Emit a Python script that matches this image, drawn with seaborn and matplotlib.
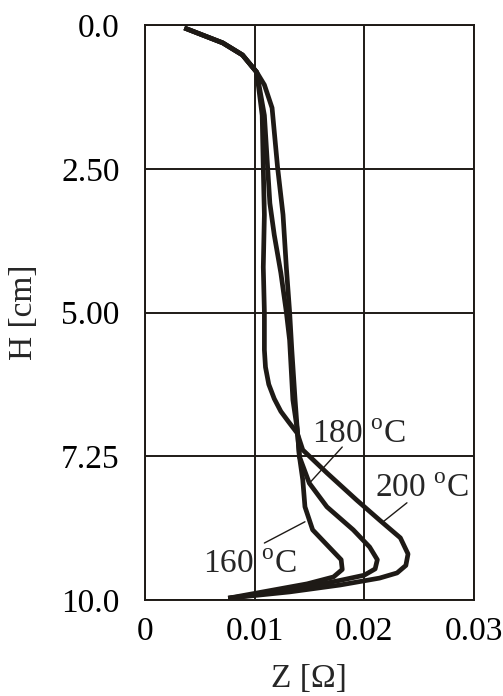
import matplotlib
matplotlib.use("Agg")
import matplotlib.pyplot as plt
import seaborn as sns
import pandas as pd

# shared top part of all three curves (Z [ohm], H [cm])
top_z = [0.0036, 0.0071, 0.0089, 0.0102]
top_h = [0.05, 0.31, 0.52, 0.82]

z_200 = [0.0107, 0.0108, 0.0109, 0.0108, 0.0109, 0.0109, 0.0110, 0.0113, 0.0118,
         0.0124, 0.0131, 0.0139, 0.0144, 0.0166, 0.0193, 0.0214, 0.0233, 0.0240,
         0.0238, 0.0230, 0.0214, 0.0178, 0.0132, 0.0076]
h_200 = [1.57, 2.49, 3.30, 4.21, 4.99, 5.65, 5.95, 6.25, 6.50,
         6.72, 6.90, 7.10, 7.39, 7.79, 8.26, 8.61, 8.92, 9.20,
         9.40, 9.53, 9.62, 9.74, 9.86, 9.97]

z_180 = [0.0109, 0.0112, 0.0114, 0.0118, 0.0124, 0.0129, 0.0132, 0.0135, 0.0139,
         0.0141, 0.0150, 0.0166, 0.0190, 0.0205, 0.0212, 0.0210, 0.0200, 0.0178,
         0.0132, 0.0076]
h_180 = [1.57, 2.49, 3.10, 3.65, 4.31, 4.99, 5.48, 6.52, 7.04,
         7.51, 7.97, 8.38, 8.78, 9.08, 9.30, 9.46, 9.57, 9.66,
         9.83, 9.97]

z_160 = [0.0109, 0.0116, 0.0121, 0.0126, 0.0129, 0.0132, 0.0134, 0.0137, 0.0139,
         0.0141, 0.0144, 0.0146, 0.0153, 0.0169, 0.0179, 0.0180, 0.0172, 0.0148, 0.0076]
h_160 = [1.04, 1.44, 2.47, 3.30, 4.21, 4.99, 5.65, 6.52, 7.04,
         7.51, 7.91, 8.38, 8.78, 9.10, 9.30, 9.47, 9.60, 9.72, 9.97]

y_ticks = [0, 2.5, 5, 7.5, 10]
y_labels = ["0.0", "2.50", "5.00", "7.25", "10.0"]
x_ticks = [0, 0.01, 0.02, 0.03]
x_labels = ["0", "0.01", "0.02", "0.03"]

curves = {"200": (z_200, h_200), "180": (z_180, h_180), "160": (z_160, h_160)}

sns.set_style("white")
plt.rcParams["font.family"] = ["Liberation Serif", "DejaVu Serif"]
plt.rcParams["mathtext.fontset"] = "custom"
plt.rcParams["mathtext.rm"] = "Liberation Serif"

fig = plt.figure(figsize=(5.03, 6.96), dpi=100)
ax = fig.add_axes([0.288, 0.138, 0.654, 0.826])

for name, (zz, hh) in curves.items():
    df = pd.DataFrame({"Z": top_z + zz, "H": top_h + hh, "t": name})
    sns.lineplot(data=df, x="Z", y="H", sort=False, estimator=None, ax=ax,
                 color="#1e1a16", linewidth=3.4, legend=False,
                 solid_joinstyle="round", solid_capstyle="butt")

ax.set_xlim(0, 0.03)
ax.set_ylim(10, 0)
ax.set_xticks(x_ticks)
ax.set_xticklabels(x_labels)
ax.set_yticks(y_ticks)
ax.set_yticklabels(y_labels)
ax.grid(True, color="#1e1a16", linewidth=1.4)
ax.set_axisbelow(True)
for s in ax.spines.values():
    s.set_color("#1e1a16")
    s.set_linewidth(1.4)
ax.tick_params(length=0, labelsize=24, pad=12, colors="black")
ax.tick_params(axis="y", pad=18)
ax.set_xlabel("Z [Ω]", fontsize=24, labelpad=12)
ax.set_ylabel("H [cm]", fontsize=24, labelpad=16)

# labels with leader lines
fs = 24
ax.text(0.01522, 7.27, r"180 $^{\mathrm{o}}$C", fontsize=fs, ha="left", va="baseline")
ax.plot([0.0180, 0.0150], [7.34, 7.97], color="#1e1a16", lw=1.0)
ax.text(0.02097, 8.21, r"200 $^{\mathrm{o}}$C", fontsize=fs, ha="left", va="baseline")
ax.plot([0.0239, 0.0216], [8.31, 8.66], color="#1e1a16", lw=1.0)
ax.text(0.00529, 9.53, r"160 $^{\mathrm{o}}$C", fontsize=fs, ha="left", va="baseline")
ax.plot([0.0109, 0.0146], [9.01, 8.64], color="#1e1a16", lw=1.0)

fig.savefig("out.png", dpi=100)
